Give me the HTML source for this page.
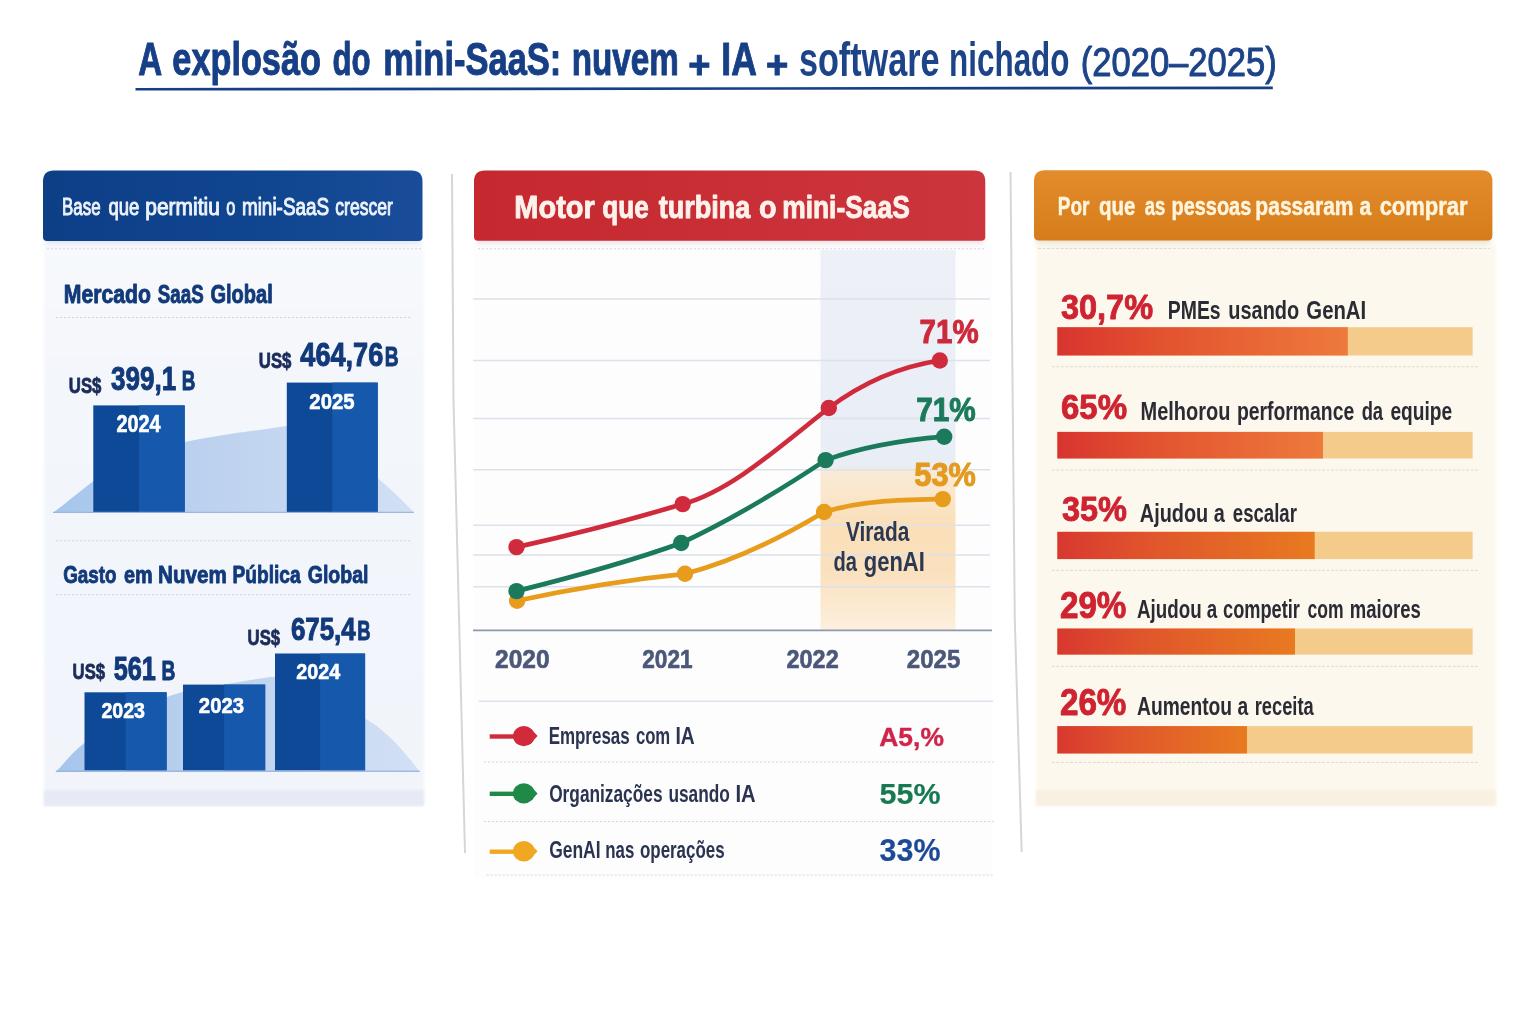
<!DOCTYPE html>
<html lang="pt-BR"><head><meta charset="utf-8"><title>A explosão do mini-SaaS</title>
<style>
html,body{margin:0;padding:0;background:#fff;}
body{width:1536px;height:1024px;overflow:hidden;}
svg{display:block;font-family:"Liberation Sans", Arial, sans-serif;}
text{white-space:pre;}
</style></head><body>
<svg width="1536" height="1024" viewBox="0 0 1536 1024">
<defs>
<linearGradient id="gBlue" x1="0" y1="0" x2="1" y2="0"><stop offset="0" stop-color="#0d3f87"/><stop offset="0.6" stop-color="#104590"/><stop offset="1" stop-color="#194d99"/></linearGradient>
<linearGradient id="gRed" x1="0" y1="0" x2="1" y2="0"><stop offset="0" stop-color="#c6282f"/><stop offset="1" stop-color="#cc353c"/></linearGradient>
<linearGradient id="gOr" x1="0" y1="0" x2="0" y2="1"><stop offset="0" stop-color="#e38c2b"/><stop offset="1" stop-color="#d67c1b"/></linearGradient>
<linearGradient id="gLeftBody" x1="0" y1="0" x2="0" y2="1"><stop offset="0" stop-color="#f7f9fc"/><stop offset="0.25" stop-color="#f3f6fb"/><stop offset="1" stop-color="#f1f4fa"/></linearGradient>
<linearGradient id="gHill" x1="0" y1="0" x2="1" y2="0"><stop offset="0" stop-color="#a6c5ec"/><stop offset="0.45" stop-color="#bdd2ef"/><stop offset="1" stop-color="#d2e0f4"/></linearGradient>
<linearGradient id="gBand" x1="0" y1="0" x2="0" y2="1"><stop offset="0" stop-color="#edf0f7"/><stop offset="0.566" stop-color="#e9edf5"/><stop offset="0.586" stop-color="#f9ead5"/><stop offset="0.65" stop-color="#fae6cb"/><stop offset="0.72" stop-color="#fadfb9"/><stop offset="0.84" stop-color="#fae0bd"/><stop offset="0.92" stop-color="#fbe8cd"/><stop offset="1" stop-color="#fdf0de"/></linearGradient>
<linearGradient id="gBar" x1="0" y1="0" x2="1" y2="0"><stop offset="0" stop-color="#d8342f"/><stop offset="0.35" stop-color="#e2522f"/><stop offset="1" stop-color="#ee7a3c"/></linearGradient>
<linearGradient id="gBar2" x1="0" y1="0" x2="1" y2="0"><stop offset="0" stop-color="#d8382f"/><stop offset="0.35" stop-color="#e0552c"/><stop offset="1" stop-color="#e87a20"/></linearGradient>
<filter id="soft" x="-5%" y="-5%" width="110%" height="110%"><feGaussianBlur stdDeviation="1.6"/></filter>
<filter id="soft2" x="-5%" y="-20%" width="110%" height="160%"><feGaussianBlur stdDeviation="2.5"/></filter>
</defs>
<path d="M135.5,87.9 L1272.8,86.5 L1272.8,89.2 L135.5,90.6 Z" fill="#173f86"/>
<path d="M452,174 L453.5,400 L465,853" fill="none" stroke="#d4d6dc" stroke-width="2"/>
<path d="M1010.5,172 L1014.8,620 L1021.7,852" fill="none" stroke="#d4d6dc" stroke-width="2"/>
<rect x="44" y="245" width="380" height="561" fill="url(#gLeftBody)" filter="url(#soft)"/>
<rect x="44" y="790" width="380" height="16" fill="#e5eaf5" filter="url(#soft)"/>
<path d="M47,236 H419 Q421,236 421,238 V241 Q421,244 418,244 H48 Q45,244 45,241 V238 Q45,236 47,236 Z" fill="#c9d3e6" opacity="0.6" filter="url(#soft2)"/>
<path d="M54,170.5 H411.5 Q422.5,170.5 422.5,181.5 V237 Q422.5,241 418.5,241 H47 Q43,241 43,237 V181.5 Q43,170.5 54,170.5 Z" fill="url(#gBlue)"/>
<line x1="47" y1="248.8" x2="421" y2="248.8" stroke="#cbd0da" stroke-width="1" stroke-dasharray="2.2 1.8" opacity="0.85"/>
<line x1="56" y1="317.5" x2="412" y2="317.5" stroke="#cbd0da" stroke-width="1" stroke-dasharray="2.2 1.8" opacity="0.85"/>
<line x1="56" y1="540.8" x2="412" y2="540.8" stroke="#cbd0da" stroke-width="1" stroke-dasharray="2.2 1.8" opacity="0.85"/>
<line x1="56" y1="594.6" x2="412" y2="594.6" stroke="#cbd0da" stroke-width="1" stroke-dasharray="2.2 1.8" opacity="0.85"/>
<path d="M53,512.5 C64,505 80,491 93,481.5 C122,460 150,449 185,442 C225,434 260,430 287,426 L378,426 L378,478.5 C392,490 402,500 414,512.5 Z" fill="url(#gHill)"/>
<rect x="93.3" y="405.4" width="91.39999999999999" height="106.89999999999998" fill="#0e4998"/>
<rect x="139.0" y="405.4" width="45.69999999999999" height="106.89999999999998" fill="#1658ab"/>
<rect x="286.8" y="382.6" width="90.89999999999998" height="129.69999999999993" fill="#0e4998"/>
<rect x="332.25" y="382.6" width="45.44999999999999" height="129.69999999999993" fill="#1658ab"/>
<rect x="53" y="511.8" width="361" height="1.1" fill="#93b2dc"/>
<path d="M55.8,772 C63,765 72,752 84.5,743 C110,724 138,708 167,697 C172,695 178,693 183,692 C215,686 245,681 270,677 L365,677 L365,718.8 C380,726 402,747 419.7,772 Z" fill="url(#gHill)"/>
<rect x="84.5" y="692.3" width="82.1" height="78.10000000000002" fill="#0e4998"/>
<rect x="125.55" y="692.3" width="41.05" height="78.10000000000002" fill="#1658ab"/>
<rect x="183" y="684.6" width="82.19999999999999" height="85.79999999999995" fill="#0e4998"/>
<rect x="224.1" y="684.6" width="41.099999999999994" height="85.79999999999995" fill="#1658ab"/>
<rect x="275" y="653.5" width="90.10000000000002" height="116.89999999999998" fill="#0e4998"/>
<rect x="320.05" y="653.5" width="45.05000000000001" height="116.89999999999998" fill="#1658ab"/>
<rect x="55.8" y="770.6" width="364" height="1.2" fill="#93b2dc"/>
<rect x="474" y="246" width="518" height="632" fill="#fdfdfe" filter="url(#soft)"/>
<path d="M478,236 H982 Q984,236 984,238 V241 Q984,244 981,244 H479 Q476,244 476,241 V238 Q476,236 478,236 Z" fill="#d8c9cc" opacity="0.5" filter="url(#soft2)"/>
<path d="M485,170.5 H974.3 Q985.3,170.5 985.3,181.5 V236.8 Q985.3,240.8 981.3,240.8 H478 Q474,240.8 474,236.8 V181.5 Q474,170.5 485,170.5 Z" fill="url(#gRed)"/>
<line x1="478" y1="248.8" x2="984" y2="248.8" stroke="#cbd0da" stroke-width="1" stroke-dasharray="2.2 1.8" opacity="0.85"/>
<rect x="820.5" y="250" width="135" height="380" fill="url(#gBand)"/>
<line x1="473" y1="299" x2="990" y2="299" stroke="#dce1ea" stroke-width="1.5"/>
<line x1="473" y1="360.5" x2="990" y2="360.5" stroke="#dce1ea" stroke-width="1.5"/>
<line x1="473" y1="418.5" x2="990" y2="418.5" stroke="#dce1ea" stroke-width="1.5"/>
<line x1="473" y1="469.8" x2="990" y2="469.8" stroke="#dce1ea" stroke-width="1.5"/>
<line x1="473" y1="525.3" x2="990" y2="525.3" stroke="#dce1ea" stroke-width="1.5"/>
<line x1="473" y1="555.0" x2="990" y2="555.0" stroke="#dce1ea" stroke-width="1.5"/>
<line x1="473" y1="586.7" x2="990" y2="586.7" stroke="#dce1ea" stroke-width="1.5"/>
<line x1="473" y1="630.3" x2="992" y2="630.3" stroke="#8f98b0" stroke-width="1.8"/>
<path d="M517.1,600.8 C573.1,588.5 629.0,579.4 685.0,573.8 C731.4,562.2 777.7,539.8 824.1,512.0 C863.7,500.1 903.2,499.9 942.8,499.1" fill="none" stroke="#e89c1c" stroke-width="4.7" stroke-linecap="round" stroke-linejoin="round"/>
<circle cx="517.1" cy="600.8" r="8.2" fill="#e89c1c"/>
<circle cx="685" cy="573.8" r="8.2" fill="#e89c1c"/>
<circle cx="824.1" cy="512" r="8.2" fill="#e89c1c"/>
<circle cx="942.8" cy="499.1" r="8.2" fill="#e89c1c"/>
<path d="M516.5,591.1 C571.4,577.4 626.3,562.8 681.2,543.0 C729.3,520.9 777.5,491.9 825.6,460.1 C865.1,445.9 904.7,439.9 944.2,436.7" fill="none" stroke="#1b7a5b" stroke-width="4.7" stroke-linecap="round" stroke-linejoin="round"/>
<circle cx="516.5" cy="591.1" r="8.2" fill="#1b7a5b"/>
<circle cx="681.2" cy="543" r="8.2" fill="#1b7a5b"/>
<circle cx="825.6" cy="460.1" r="8.2" fill="#1b7a5b"/>
<circle cx="944.2" cy="436.7" r="8.2" fill="#1b7a5b"/>
<path d="M516.5,547.1 C571.9,534.9 627.3,520.7 682.7,504.1 C731.4,491.0 780.1,446.0 828.8,408.0 C865.8,380.2 902.8,366.1 939.8,360.5" fill="none" stroke="#d02b3c" stroke-width="4.7" stroke-linecap="round" stroke-linejoin="round"/>
<circle cx="516.5" cy="547.1" r="8.2" fill="#d02b3c"/>
<circle cx="682.7" cy="504.1" r="8.2" fill="#d02b3c"/>
<circle cx="828.8" cy="408" r="8.2" fill="#d02b3c"/>
<circle cx="939.8" cy="360.5" r="8.2" fill="#d02b3c"/>
<line x1="479" y1="701.2" x2="993" y2="701.2" stroke="#dde1e9" stroke-width="1.4"/>
<line x1="484" y1="761.9" x2="993.8" y2="761.9" stroke="#cbd0da" stroke-width="1" stroke-dasharray="2.2 1.8" opacity="0.85"/>
<line x1="484" y1="821.5" x2="993.8" y2="821.5" stroke="#cbd0da" stroke-width="1" stroke-dasharray="2.2 1.8" opacity="0.85"/>
<line x1="486.5" y1="875.1" x2="993.8" y2="875.1" stroke="#cbd0da" stroke-width="1" stroke-dasharray="2.2 1.8" opacity="0.85"/>
<line x1="489.7" y1="736.5" x2="516" y2="736.5" stroke="#d12a3a" stroke-width="4.4"/>
<ellipse cx="523.8" cy="736.1" rx="10.8" ry="10.2" fill="#d12a3a"/>
<path d="M531,729.6 Q535,733.1 537.6,736.1 Q535,739.1 531,742.6 Z" fill="#d12a3a"/>
<line x1="489.7" y1="793.8" x2="516" y2="793.8" stroke="#1f8a47" stroke-width="4.4"/>
<ellipse cx="523.8" cy="793.4" rx="10.8" ry="10.2" fill="#1f8a47"/>
<path d="M531,786.9 Q535,790.4 537.6,793.4 Q535,796.4 531,799.9 Z" fill="#1f8a47"/>
<line x1="489.7" y1="851.6999999999999" x2="516" y2="851.6999999999999" stroke="#f0a822" stroke-width="4.4"/>
<ellipse cx="523.8" cy="851.3" rx="10.8" ry="10.2" fill="#f0a822"/>
<path d="M531,844.8 Q535,848.3 537.6,851.3 Q535,854.3 531,857.8 Z" fill="#f0a822"/>
<rect x="1036" y="245" width="460" height="561" fill="#fdf8ee" filter="url(#soft)"/>
<rect x="1036" y="790" width="460" height="16" fill="#f8f0e0" filter="url(#soft)"/>
<path d="M1038,236 H1489 Q1491,236 1491,238 V241 Q1491,244 1488,244 H1039 Q1036,244 1036,241 V238 Q1036,236 1038,236 Z" fill="#e0cfb4" opacity="0.6" filter="url(#soft2)"/>
<path d="M1045,170.3 H1481.4 Q1492.4,170.3 1492.4,181.3 V235.6 Q1492.4,240.6 1487.4,240.6 H1039 Q1034,240.6 1034,235.6 V181.3 Q1034,170.3 1045,170.3 Z" fill="url(#gOr)"/>
<line x1="1038" y1="248.5" x2="1490" y2="248.5" stroke="#ddd6ca" stroke-width="1" stroke-dasharray="3 1.5" opacity="0.9"/>
<rect x="1057.3" y="327.2" width="415.3" height="28.3" fill="#f4cb8b"/>
<rect x="1057.3" y="327.2" width="290.5" height="28.3" fill="url(#gBar)"/>
<rect x="1057.3" y="431.9" width="415.3" height="26.6" fill="#f4cb8b"/>
<rect x="1057.3" y="431.9" width="265.7" height="26.6" fill="url(#gBar)"/>
<rect x="1057.3" y="531.8" width="415.3" height="27.3" fill="#f4cb8b"/>
<rect x="1057.3" y="531.8" width="257.4" height="27.3" fill="url(#gBar2)"/>
<rect x="1057.3" y="628.5" width="415.3" height="26.1" fill="#f4cb8b"/>
<rect x="1057.3" y="628.5" width="237.7" height="26.1" fill="url(#gBar2)"/>
<rect x="1057.3" y="726.1" width="415.3" height="27.4" fill="#f4cb8b"/>
<rect x="1057.3" y="726.1" width="189.7" height="27.4" fill="url(#gBar2)"/>
<line x1="1052" y1="366.8" x2="1479.6" y2="366.8" stroke="#ddd6ca" stroke-width="1" stroke-dasharray="3 1.5" opacity="0.9"/>
<line x1="1052" y1="470.1" x2="1479.6" y2="470.1" stroke="#ddd6ca" stroke-width="1" stroke-dasharray="3 1.5" opacity="0.9"/>
<line x1="1052" y1="570.3" x2="1479.6" y2="570.3" stroke="#ddd6ca" stroke-width="1" stroke-dasharray="3 1.5" opacity="0.9"/>
<line x1="1052" y1="666.3" x2="1479.6" y2="666.3" stroke="#ddd6ca" stroke-width="1" stroke-dasharray="3 1.5" opacity="0.9"/>
<line x1="1052" y1="762.4" x2="1479.6" y2="762.4" stroke="#ddd6ca" stroke-width="1" stroke-dasharray="3 1.5" opacity="0.9"/>
<g id="labels">
<text x="138.28" y="74.90" font-size="46.22" textLength="23.95" lengthAdjust="spacingAndGlyphs" fill="#173f86" font-weight="700" stroke="#173f86" stroke-width="1.0" stroke-linejoin="round">A</text>
<text x="172.33" y="74.90" font-size="46.22" textLength="148.59" lengthAdjust="spacingAndGlyphs" fill="#173f86" font-weight="700" stroke="#173f86" stroke-width="1.0" stroke-linejoin="round">explosão</text>
<text x="332.53" y="74.90" font-size="46.22" textLength="38.09" lengthAdjust="spacingAndGlyphs" fill="#173f86" font-weight="700" stroke="#173f86" stroke-width="1.0" stroke-linejoin="round">do</text>
<text x="383.14" y="74.90" font-size="46.22" textLength="178.22" lengthAdjust="spacingAndGlyphs" fill="#173f86" font-weight="700" stroke="#173f86" stroke-width="1.0" stroke-linejoin="round">mini-SaaS:</text>
<text x="571.72" y="74.90" font-size="46.22" textLength="107.21" lengthAdjust="spacingAndGlyphs" fill="#173f86" font-weight="700" stroke="#173f86" stroke-width="1.0" stroke-linejoin="round">nuvem</text>
<text x="721.28" y="74.90" font-size="46.22" textLength="35.49" lengthAdjust="spacingAndGlyphs" fill="#173f86" font-weight="700" stroke="#173f86" stroke-width="1.0" stroke-linejoin="round">IA</text>
<text x="688.31" y="78.10" font-size="39.40" textLength="22.20" lengthAdjust="spacingAndGlyphs" fill="#173f86" font-weight="700" stroke="#173f86" stroke-width="1.0" stroke-linejoin="round">+</text>
<text x="766.11" y="78.10" font-size="39.40" textLength="22.31" lengthAdjust="spacingAndGlyphs" fill="#173f86" font-weight="700" stroke="#173f86" stroke-width="1.0" stroke-linejoin="round">+</text>
<text x="798.93" y="75.60" font-size="47.67" textLength="140.62" lengthAdjust="spacingAndGlyphs" fill="#1d4489" font-weight="700">software</text>
<text x="949.04" y="75.60" font-size="47.67" textLength="120.49" lengthAdjust="spacingAndGlyphs" fill="#1d4489" font-weight="700">nichado</text>
<text x="1080.73" y="76.25" font-size="41.43" textLength="196.01" lengthAdjust="spacingAndGlyphs" fill="#1d4489" stroke="#1d4489" stroke-width="1.1" stroke-linejoin="round">(2020–2025)</text>
<text x="62.08" y="215.10" font-size="23.55" textLength="38.50" lengthAdjust="spacingAndGlyphs" fill="#eef3fb" stroke="#eef3fb" stroke-width="1.0" stroke-linejoin="round">Base</text>
<text x="108.52" y="215.10" font-size="23.55" textLength="30.83" lengthAdjust="spacingAndGlyphs" fill="#eef3fb" stroke="#eef3fb" stroke-width="1.0" stroke-linejoin="round">que</text>
<text x="145.29" y="215.10" font-size="23.55" textLength="74.59" lengthAdjust="spacingAndGlyphs" fill="#eef3fb" stroke="#eef3fb" stroke-width="1.0" stroke-linejoin="round">permitiu</text>
<text x="226.19" y="215.10" font-size="23.55" textLength="9.07" lengthAdjust="spacingAndGlyphs" fill="#eef3fb" stroke="#eef3fb" stroke-width="1.0" stroke-linejoin="round">o</text>
<text x="241.92" y="215.10" font-size="23.55" textLength="87.28" lengthAdjust="spacingAndGlyphs" fill="#eef3fb" stroke="#eef3fb" stroke-width="1.0" stroke-linejoin="round">mini-SaaS</text>
<text x="335.35" y="215.10" font-size="23.55" textLength="57.53" lengthAdjust="spacingAndGlyphs" fill="#eef3fb" stroke="#eef3fb" stroke-width="1.0" stroke-linejoin="round">crescer</text>
<text x="63.83" y="303.35" font-size="24.85" textLength="87.12" lengthAdjust="spacingAndGlyphs" fill="#123a7a" font-weight="700" stroke="#123a7a" stroke-width="0.9" stroke-linejoin="round">Mercado</text>
<text x="157.86" y="303.35" font-size="24.85" textLength="45.79" lengthAdjust="spacingAndGlyphs" fill="#123a7a" font-weight="700" stroke="#123a7a" stroke-width="0.9" stroke-linejoin="round">SaaS</text>
<text x="210.42" y="303.35" font-size="24.85" textLength="62.31" lengthAdjust="spacingAndGlyphs" fill="#123a7a" font-weight="700" stroke="#123a7a" stroke-width="0.9" stroke-linejoin="round">Global</text>
<text x="68.81" y="393.40" font-size="22.09" textLength="32.64" lengthAdjust="spacingAndGlyphs" fill="#1b2c5a" font-weight="700" stroke="#1b2c5a" stroke-width="0.8" stroke-linejoin="round">US$</text>
<text x="111.09" y="389.90" font-size="33.43" textLength="65.16" lengthAdjust="spacingAndGlyphs" fill="#123a7a" font-weight="700" stroke="#123a7a" stroke-width="1.0" stroke-linejoin="round">399,1</text>
<text x="181.72" y="390.00" font-size="27.62" textLength="13.63" lengthAdjust="spacingAndGlyphs" fill="#123a7a" font-weight="700" stroke="#123a7a" stroke-width="1.0" stroke-linejoin="round">B</text>
<text x="258.81" y="368.10" font-size="22.09" textLength="32.64" lengthAdjust="spacingAndGlyphs" fill="#1b2c5a" font-weight="700" stroke="#1b2c5a" stroke-width="0.8" stroke-linejoin="round">US$</text>
<text x="300.30" y="366.00" font-size="33.43" textLength="82.98" lengthAdjust="spacingAndGlyphs" fill="#123a7a" font-weight="700" stroke="#123a7a" stroke-width="1.0" stroke-linejoin="round">464,76</text>
<text x="384.70" y="366.00" font-size="27.62" textLength="13.87" lengthAdjust="spacingAndGlyphs" fill="#123a7a" font-weight="700" stroke="#123a7a" stroke-width="1.0" stroke-linejoin="round">B</text>
<text x="116.48" y="431.90" font-size="23.03" textLength="44.19" lengthAdjust="spacingAndGlyphs" fill="#ffffff" font-weight="700" stroke="#ffffff" stroke-width="0.6" stroke-linejoin="round">2024</text>
<text x="309.36" y="409.10" font-size="22.89" textLength="45.24" lengthAdjust="spacingAndGlyphs" fill="#ffffff" font-weight="700" stroke="#ffffff" stroke-width="0.6" stroke-linejoin="round">2025</text>
<text x="63.16" y="583.15" font-size="24.42" textLength="53.41" lengthAdjust="spacingAndGlyphs" fill="#123a7a" font-weight="700" stroke="#123a7a" stroke-width="0.9" stroke-linejoin="round">Gasto</text>
<text x="123.93" y="583.15" font-size="24.42" textLength="28.63" lengthAdjust="spacingAndGlyphs" fill="#123a7a" font-weight="700" stroke="#123a7a" stroke-width="0.9" stroke-linejoin="round">em</text>
<text x="158.06" y="583.15" font-size="24.42" textLength="68.75" lengthAdjust="spacingAndGlyphs" fill="#123a7a" font-weight="700" stroke="#123a7a" stroke-width="0.9" stroke-linejoin="round">Nuvem</text>
<text x="232.55" y="583.15" font-size="24.42" textLength="68.07" lengthAdjust="spacingAndGlyphs" fill="#123a7a" font-weight="700" stroke="#123a7a" stroke-width="0.9" stroke-linejoin="round">Pública</text>
<text x="307.74" y="583.15" font-size="24.42" textLength="60.76" lengthAdjust="spacingAndGlyphs" fill="#123a7a" font-weight="700" stroke="#123a7a" stroke-width="0.9" stroke-linejoin="round">Global</text>
<text x="72.62" y="679.20" font-size="21.80" textLength="32.44" lengthAdjust="spacingAndGlyphs" fill="#1b2c5a" font-weight="700" stroke="#1b2c5a" stroke-width="0.8" stroke-linejoin="round">US$</text>
<text x="113.70" y="679.60" font-size="33.15" textLength="42.23" lengthAdjust="spacingAndGlyphs" fill="#123a7a" font-weight="700" stroke="#123a7a" stroke-width="1.0" stroke-linejoin="round">561</text>
<text x="161.40" y="679.60" font-size="27.91" textLength="13.87" lengthAdjust="spacingAndGlyphs" fill="#123a7a" font-weight="700" stroke="#123a7a" stroke-width="1.0" stroke-linejoin="round">B</text>
<text x="247.62" y="645.20" font-size="21.37" textLength="32.44" lengthAdjust="spacingAndGlyphs" fill="#1b2c5a" font-weight="700" stroke="#1b2c5a" stroke-width="0.8" stroke-linejoin="round">US$</text>
<text x="290.89" y="639.90" font-size="32.02" textLength="64.85" lengthAdjust="spacingAndGlyphs" fill="#123a7a" font-weight="700" stroke="#123a7a" stroke-width="1.0" stroke-linejoin="round">675,4</text>
<text x="357.25" y="639.70" font-size="26.74" textLength="13.29" lengthAdjust="spacingAndGlyphs" fill="#123a7a" font-weight="700" stroke="#123a7a" stroke-width="1.0" stroke-linejoin="round">B</text>
<text x="101.39" y="718.20" font-size="22.47" textLength="43.60" lengthAdjust="spacingAndGlyphs" fill="#ffffff" font-weight="700" stroke="#ffffff" stroke-width="0.6" stroke-linejoin="round">2023</text>
<text x="198.86" y="713.40" font-size="22.75" textLength="45.24" lengthAdjust="spacingAndGlyphs" fill="#ffffff" font-weight="700" stroke="#ffffff" stroke-width="0.6" stroke-linejoin="round">2023</text>
<text x="296.28" y="678.90" font-size="21.91" textLength="43.89" lengthAdjust="spacingAndGlyphs" fill="#ffffff" font-weight="700" stroke="#ffffff" stroke-width="0.6" stroke-linejoin="round">2024</text>
<text x="514.34" y="217.75" font-size="30.67" textLength="80.42" lengthAdjust="spacingAndGlyphs" fill="#fdf1ec" font-weight="700" stroke="#fdf1ec" stroke-width="0.9" stroke-linejoin="round">Motor</text>
<text x="602.23" y="217.75" font-size="30.67" textLength="46.47" lengthAdjust="spacingAndGlyphs" fill="#fdf1ec" font-weight="700" stroke="#fdf1ec" stroke-width="0.9" stroke-linejoin="round">que</text>
<text x="658.65" y="217.75" font-size="30.67" textLength="91.73" lengthAdjust="spacingAndGlyphs" fill="#fdf1ec" font-weight="700" stroke="#fdf1ec" stroke-width="0.9" stroke-linejoin="round">turbina</text>
<text x="759.05" y="217.75" font-size="30.67" textLength="17.54" lengthAdjust="spacingAndGlyphs" fill="#fdf1ec" font-weight="700" stroke="#fdf1ec" stroke-width="0.9" stroke-linejoin="round">o</text>
<text x="782.20" y="217.75" font-size="30.67" textLength="127.54" lengthAdjust="spacingAndGlyphs" fill="#fdf1ec" font-weight="700" stroke="#fdf1ec" stroke-width="0.9" stroke-linejoin="round">mini-SaaS</text>
<text x="919.58" y="343.10" font-size="32.87" textLength="59.04" lengthAdjust="spacingAndGlyphs" fill="#cc2a3b" font-weight="700" stroke="#cc2a3b" stroke-width="1.0" stroke-linejoin="round">71%</text>
<text x="916.27" y="420.70" font-size="32.44" textLength="59.55" lengthAdjust="spacingAndGlyphs" fill="#1b7a5b" font-weight="700" stroke="#1b7a5b" stroke-width="1.0" stroke-linejoin="round">71%</text>
<text x="914.32" y="485.80" font-size="32.30" textLength="61.52" lengthAdjust="spacingAndGlyphs" fill="#e39a1f" font-weight="700" stroke="#e39a1f" stroke-width="1.0" stroke-linejoin="round">53%</text>
<text x="845.90" y="541.00" font-size="26.74" textLength="63.37" lengthAdjust="spacingAndGlyphs" fill="#2b3852" font-weight="700">Virada</text>
<text x="833.57" y="570.80" font-size="26.74" textLength="23.50" lengthAdjust="spacingAndGlyphs" fill="#2b3852" font-weight="700">da</text>
<text x="863.81" y="570.80" font-size="26.74" textLength="60.98" lengthAdjust="spacingAndGlyphs" fill="#2b3852" font-weight="700">genAI</text>
<text x="495.03" y="668.10" font-size="24.86" textLength="54.56" lengthAdjust="spacingAndGlyphs" fill="#4b5879" font-weight="700" stroke="#4b5879" stroke-width="0.6" stroke-linejoin="round">2020</text>
<text x="642.29" y="668.10" font-size="24.86" textLength="50.37" lengthAdjust="spacingAndGlyphs" fill="#4b5879" font-weight="700" stroke="#4b5879" stroke-width="0.6" stroke-linejoin="round">2021</text>
<text x="786.57" y="668.10" font-size="24.86" textLength="52.12" lengthAdjust="spacingAndGlyphs" fill="#4b5879" font-weight="700" stroke="#4b5879" stroke-width="0.6" stroke-linejoin="round">2022</text>
<text x="906.85" y="668.10" font-size="24.86" textLength="53.55" lengthAdjust="spacingAndGlyphs" fill="#4b5879" font-weight="700" stroke="#4b5879" stroke-width="0.6" stroke-linejoin="round">2025</text>
<text x="548.64" y="743.60" font-size="23.84" textLength="81.05" lengthAdjust="spacingAndGlyphs" fill="#2a3350" font-weight="700">Empresas</text>
<text x="635.88" y="743.60" font-size="23.84" textLength="34.34" lengthAdjust="spacingAndGlyphs" fill="#2a3350" font-weight="700">com</text>
<text x="675.40" y="743.60" font-size="23.84" textLength="19.27" lengthAdjust="spacingAndGlyphs" fill="#2a3350" font-weight="700">IA</text>
<text x="549.16" y="802.00" font-size="23.84" textLength="113.34" lengthAdjust="spacingAndGlyphs" fill="#2a3350" font-weight="700">Organizações</text>
<text x="668.39" y="802.00" font-size="23.84" textLength="61.48" lengthAdjust="spacingAndGlyphs" fill="#2a3350" font-weight="700">usando</text>
<text x="735.43" y="802.00" font-size="23.84" textLength="20.25" lengthAdjust="spacingAndGlyphs" fill="#2a3350" font-weight="700">IA</text>
<text x="549.15" y="858.30" font-size="23.84" textLength="51.38" lengthAdjust="spacingAndGlyphs" fill="#2a3350" font-weight="700">GenAI</text>
<text x="605.25" y="858.30" font-size="23.84" textLength="29.04" lengthAdjust="spacingAndGlyphs" fill="#2a3350" font-weight="700">nas</text>
<text x="639.97" y="858.30" font-size="23.84" textLength="84.61" lengthAdjust="spacingAndGlyphs" fill="#2a3350" font-weight="700">operações</text>
<text x="879.29" y="745.60" font-size="26.45" textLength="64.59" lengthAdjust="spacingAndGlyphs" fill="#d0244b" font-weight="700" stroke="#d0244b" stroke-width="0.4" stroke-linejoin="round">A5,%</text>
<text x="879.62" y="803.50" font-size="29.78" textLength="60.91" lengthAdjust="spacingAndGlyphs" fill="#157a50" font-weight="700" stroke="#157a50" stroke-width="0.2" stroke-linejoin="round">55%</text>
<text x="879.62" y="860.90" font-size="31.60" textLength="60.91" lengthAdjust="spacingAndGlyphs" fill="#1c4a96" font-weight="700" stroke="#1c4a96" stroke-width="0.2" stroke-linejoin="round">33%</text>
<text x="1057.76" y="215.15" font-size="26.02" textLength="31.66" lengthAdjust="spacingAndGlyphs" fill="#fff4dc" font-weight="700" stroke="#fff4dc" stroke-width="0.5" stroke-linejoin="round">Por</text>
<text x="1099.01" y="215.15" font-size="26.02" textLength="36.45" lengthAdjust="spacingAndGlyphs" fill="#fff4dc" font-weight="700" stroke="#fff4dc" stroke-width="0.5" stroke-linejoin="round">que</text>
<text x="1144.66" y="215.15" font-size="26.02" textLength="20.54" lengthAdjust="spacingAndGlyphs" fill="#fff4dc" font-weight="700" stroke="#fff4dc" stroke-width="0.5" stroke-linejoin="round">as</text>
<text x="1171.50" y="215.15" font-size="26.02" textLength="79.75" lengthAdjust="spacingAndGlyphs" fill="#fff4dc" font-weight="700" stroke="#fff4dc" stroke-width="0.5" stroke-linejoin="round">pessoas</text>
<text x="1255.34" y="215.15" font-size="26.02" textLength="115.78" lengthAdjust="spacingAndGlyphs" fill="#fff4dc" font-weight="700" stroke="#fff4dc" stroke-width="0.5" stroke-linejoin="round">passaram a</text>
<text x="1379.66" y="215.15" font-size="26.02" textLength="87.90" lengthAdjust="spacingAndGlyphs" fill="#fff4dc" font-weight="700" stroke="#fff4dc" stroke-width="0.5" stroke-linejoin="round">comprar</text>
<text x="1060.94" y="318.55" font-size="35.81" textLength="92.17" lengthAdjust="spacingAndGlyphs" fill="#cf2331" font-weight="700" stroke="#cf2331" stroke-width="0.9" stroke-linejoin="round">30,7%</text>
<text x="1167.79" y="319.40" font-size="26.02" textLength="52.90" lengthAdjust="spacingAndGlyphs" fill="#2b2b34" font-weight="700">PMEs</text>
<text x="1228.26" y="319.40" font-size="26.02" textLength="70.99" lengthAdjust="spacingAndGlyphs" fill="#2b2b34" font-weight="700">usando</text>
<text x="1306.37" y="319.40" font-size="26.02" textLength="59.84" lengthAdjust="spacingAndGlyphs" fill="#2b2b34" font-weight="700">GenAI</text>
<text x="1060.92" y="419.35" font-size="35.81" textLength="66.10" lengthAdjust="spacingAndGlyphs" fill="#cf2331" font-weight="700" stroke="#cf2331" stroke-width="0.9" stroke-linejoin="round">65%</text>
<text x="1140.55" y="420.00" font-size="25.58" textLength="89.93" lengthAdjust="spacingAndGlyphs" fill="#2b2b34" font-weight="700">Melhorou</text>
<text x="1236.89" y="420.00" font-size="25.58" textLength="117.39" lengthAdjust="spacingAndGlyphs" fill="#2b2b34" font-weight="700">performance</text>
<text x="1361.63" y="420.00" font-size="25.58" textLength="21.46" lengthAdjust="spacingAndGlyphs" fill="#2b2b34" font-weight="700">da</text>
<text x="1390.40" y="420.00" font-size="25.58" textLength="61.78" lengthAdjust="spacingAndGlyphs" fill="#2b2b34" font-weight="700">equipe</text>
<text x="1061.94" y="521.15" font-size="35.81" textLength="65.07" lengthAdjust="spacingAndGlyphs" fill="#cf2331" font-weight="700" stroke="#cf2331" stroke-width="0.9" stroke-linejoin="round">35%</text>
<text x="1139.79" y="521.70" font-size="25.58" textLength="85.08" lengthAdjust="spacingAndGlyphs" fill="#2b2b34" font-weight="700">Ajudou a</text>
<text x="1232.82" y="521.70" font-size="25.58" textLength="64.04" lengthAdjust="spacingAndGlyphs" fill="#2b2b34" font-weight="700">escalar</text>
<text x="1059.91" y="617.55" font-size="36.24" textLength="66.51" lengthAdjust="spacingAndGlyphs" fill="#cf2331" font-weight="700" stroke="#cf2331" stroke-width="0.9" stroke-linejoin="round">29%</text>
<text x="1137.01" y="617.50" font-size="25.58" textLength="80.27" lengthAdjust="spacingAndGlyphs" fill="#2b2b34" font-weight="700">Ajudou a</text>
<text x="1223.03" y="617.50" font-size="25.58" textLength="76.93" lengthAdjust="spacingAndGlyphs" fill="#2b2b34" font-weight="700">competir</text>
<text x="1307.55" y="617.50" font-size="25.58" textLength="36.12" lengthAdjust="spacingAndGlyphs" fill="#2b2b34" font-weight="700">com</text>
<text x="1349.84" y="617.50" font-size="25.58" textLength="71.01" lengthAdjust="spacingAndGlyphs" fill="#2b2b34" font-weight="700">maiores</text>
<text x="1059.91" y="714.85" font-size="36.66" textLength="66.51" lengthAdjust="spacingAndGlyphs" fill="#cf2331" font-weight="700" stroke="#cf2331" stroke-width="0.9" stroke-linejoin="round">26%</text>
<text x="1137.00" y="715.20" font-size="25.58" textLength="111.08" lengthAdjust="spacingAndGlyphs" fill="#2b2b34" font-weight="700">Aumentou a</text>
<text x="1254.66" y="715.20" font-size="25.58" textLength="59.03" lengthAdjust="spacingAndGlyphs" fill="#2b2b34" font-weight="700">receita</text>
</g>
</svg>
</body></html>
